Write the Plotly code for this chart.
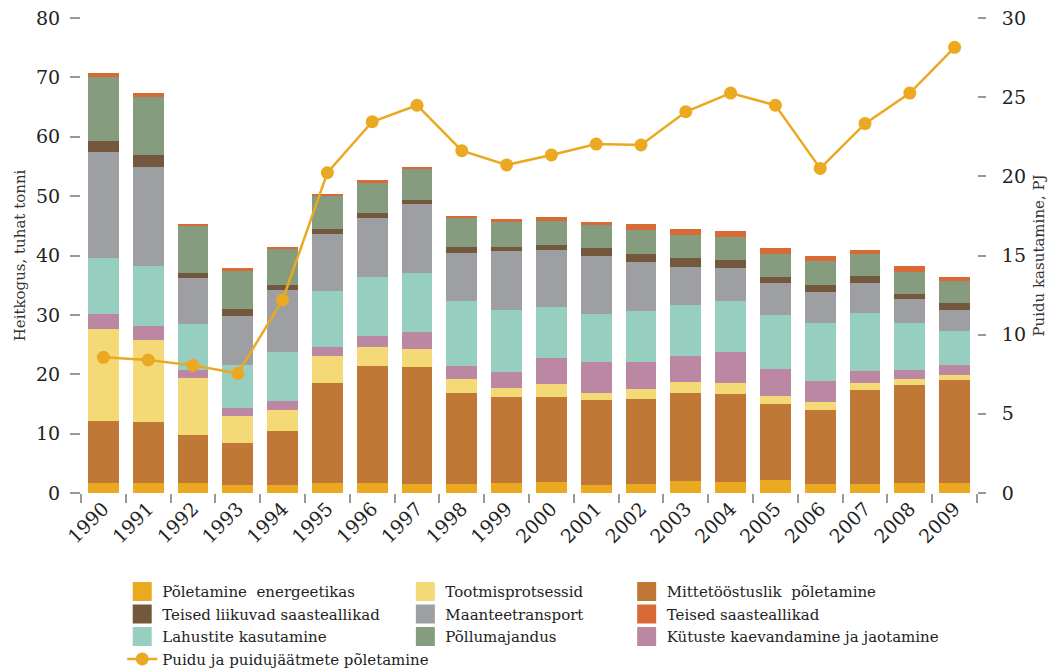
import plotly.graph_objects as go

years = [str(y) for y in range(1990, 2010)]

energeetika = [1.7, 1.7, 1.7, 1.4, 1.4, 1.7, 1.7, 1.6, 1.6, 1.7, 1.9, 1.4, 1.6, 2.1, 1.9, 2.2, 1.6, 1.6, 1.7, 1.7]
mittetoostuslik = [10.5, 10.2, 8.0, 7.1, 9.1, 16.9, 19.7, 19.7, 15.2, 14.5, 14.3, 14.2, 14.2, 14.7, 14.7, 12.8, 12.3, 15.8, 16.5, 17.4]
tootmis = [15.5, 13.8, 9.6, 4.4, 3.5, 4.4, 3.2, 3.0, 2.4, 1.5, 2.2, 1.3, 1.7, 1.9, 1.9, 1.4, 1.5, 1.2, 1.0, 0.8]
kytuste = [2.5, 2.4, 1.4, 1.4, 1.5, 1.6, 1.9, 2.9, 2.2, 2.7, 4.4, 5.2, 4.5, 4.4, 5.2, 4.5, 3.4, 1.9, 1.5, 1.7]
lahustite = [9.3, 10.1, 7.7, 7.2, 8.3, 9.5, 9.9, 9.9, 11.0, 10.4, 8.6, 8.1, 8.6, 8.6, 8.6, 9.1, 9.9, 9.9, 7.9, 5.7]
maantee = [17.9, 16.7, 7.8, 8.3, 10.4, 9.6, 9.9, 11.5, 8.1, 9.9, 9.6, 9.8, 8.3, 6.4, 5.6, 5.4, 5.2, 4.9, 4.0, 3.5]
teised_liikuvad = [1.9, 2.0, 0.9, 1.2, 0.8, 0.8, 0.8, 0.8, 1.0, 0.8, 0.8, 1.2, 1.3, 1.5, 1.3, 1.0, 1.2, 1.2, 1.0, 1.2]
pollumajandus = [10.8, 9.8, 7.9, 6.5, 6.1, 5.6, 5.1, 5.1, 4.8, 4.2, 4.0, 4.0, 4.1, 3.9, 3.9, 3.9, 3.9, 3.7, 3.7, 3.7]
teised_saaste = [0.6, 0.7, 0.35, 0.33, 0.33, 0.34, 0.6, 0.35, 0.43, 0.5, 0.7, 0.5, 1.0, 1.0, 1.0, 1.0, 0.84, 0.67, 1.0, 0.67]
puit = [8.57, 8.4, 8.06, 7.56, 12.19, 20.23, 23.45, 24.49, 21.62, 20.72, 21.35, 22.04, 21.98, 24.08, 25.26, 24.49, 20.5, 23.33, 25.26, 28.15]

# (name, values, color, legend column)
series = [
    ("Põletamine  energeetikas", energeetika, "#EBA821", "legend"),
    ("Mittetööstuslik  põletamine", mittetoostuslik, "#BF7836", "legend3"),
    ("Tootmisprotsessid", tootmis, "#F4DA77", "legend2"),
    ("Kütuste kaevandamine ja jaotamine", kytuste, "#BB87A3", "legend3"),
    ("Lahustite kasutamine", lahustite, "#96CFC0", "legend"),
    ("Maanteetransport", maantee, "#9E9FA2", "legend2"),
    ("Teised liikuvad saasteallikad", teised_liikuvad, "#74583D", "legend"),
    ("Põllumajandus", pollumajandus, "#859C7F", "legend2"),
    ("Teised saasteallikad", teised_saaste, "#D86A36", "legend3"),
]

legend_order = [
    "Põletamine  energeetikas", "Teised liikuvad saasteallikad", "Lahustite kasutamine",
    "Tootmisprotsessid", "Maanteetransport", "Põllumajandus",
    "Mittetööstuslik  põletamine", "Teised saasteallikad", "Kütuste kaevandamine ja jaotamine",
]

fig = go.Figure()
for name, vals, color, leg in series:
    fig.add_trace(go.Bar(x=years, y=vals, name=name, marker=dict(color=color, line=dict(width=0)),
                         showlegend=False, legendgroup=name))

lookup = {s[0]: s for s in series}
for name in legend_order:
    _, _, color, leg = lookup[name]
    fig.add_trace(go.Scatter(x=[None], y=[None], mode="markers", name=name, legend=leg,
                             legendgroup=name,
                             marker=dict(symbol="square", size=16, color=color,
                                         line=dict(color=color, width=3))))

fig.add_trace(go.Scatter(x=years, y=puit, yaxis="y2", mode="lines+markers",
                         name="Puidu ja puidujäätmete põletamine", legend="legend",
                         line=dict(color="#EBA821", width=2.5),
                         marker=dict(color="#EBA821", size=13)))

tick_font = dict(family="DejaVu Serif", size=19, color="#222")
title_font = dict(family="DejaVu Serif", size=15, color="#333")
leg_font = dict(family="DejaVu Serif", size=15, color="#222")

legend_common = dict(orientation="v", yanchor="top", xanchor="left", y=-0.173,
                     font=leg_font, bgcolor="rgba(0,0,0,0)", tracegroupgap=0,
                     itemsizing="trace", itemclick=False)

fig.update_layout(
    width=1051, height=671,
    margin=dict(l=81, r=74, t=18, b=178, autoexpand=False),
    plot_bgcolor="white", paper_bgcolor="white",
    barmode="stack", bargap=0.31,
    xaxis=dict(type="category", range=[-0.5, 19.5], tickangle=-45, tickfont=tick_font,
               showgrid=False, showline=False, zeroline=False, ticks="outside",
               tickson="boundaries", ticklen=9, tickcolor="#999", tickwidth=1.5,
               automargin=False),
    yaxis=dict(range=[0, 80], dtick=10, tickfont=tick_font, showgrid=False, zeroline=False,
               showline=False, ticks="outside", ticklen=10, tickcolor="#999", tickwidth=1.5,
               ticklabelstandoff=6, automargin=False,
               title=dict(text="Heitkogus, tuhat tonni", font=title_font, standoff=6)),
    yaxis2=dict(range=[0, 30], dtick=5, overlaying="y", side="right", tickfont=tick_font,
                showgrid=False, zeroline=False, showline=False, ticks="outside", ticklen=8,
                tickcolor="#999", tickwidth=1.5, ticklabelstandoff=12, automargin=False,
                title=dict(text="Puidu kasutamine, PJ", font=title_font, standoff=8)),
    legend=dict(x=0.046, **legend_common),
    legend2=dict(x=0.362, **legend_common),
    legend3=dict(x=0.609, **legend_common),
)

fig.write_html("out.html", config={"displayModeBar": False},
               post_script="document.body.style.margin='0';")
